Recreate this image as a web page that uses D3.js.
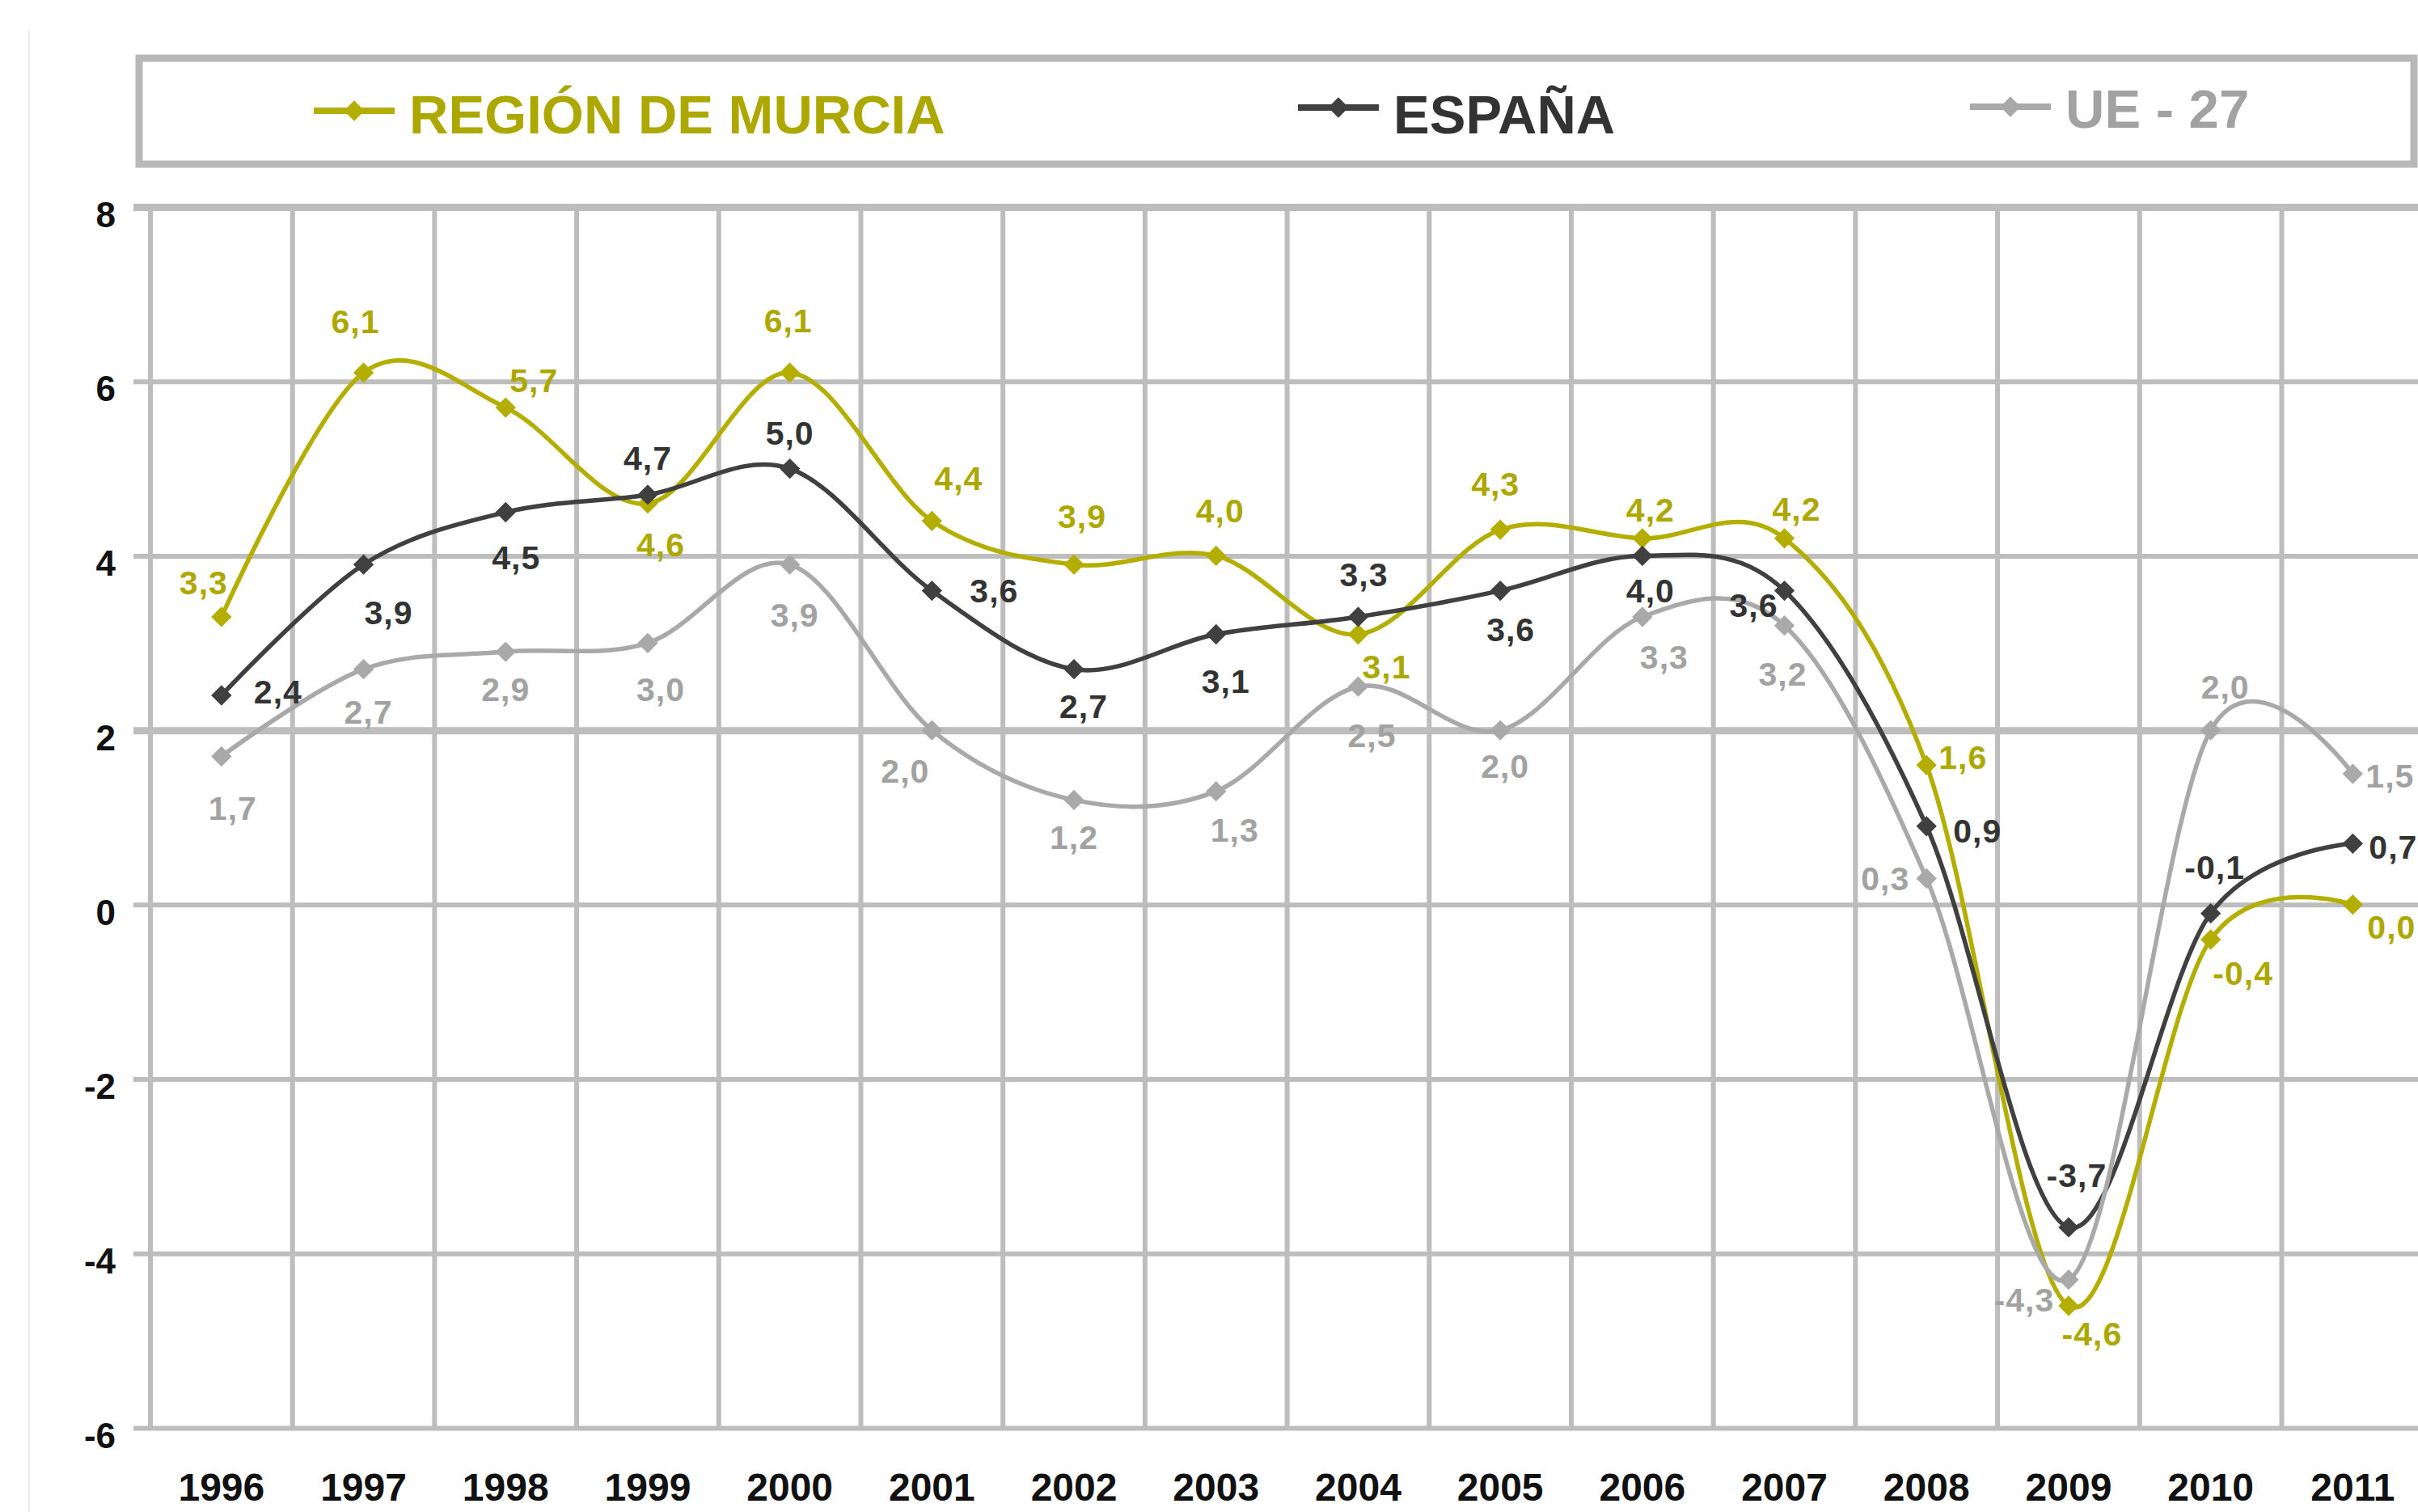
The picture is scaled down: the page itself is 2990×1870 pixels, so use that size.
<!DOCTYPE html>
<html>
<head>
<meta charset="utf-8">
<script src="https://cdn.jsdelivr.net/npm/d3@7"></script>
<style>
  html, body { margin: 0; padding: 0; background: #fff; }
  svg { display: block; font-family: 'Liberation Sans', Arial, sans-serif; font-weight: bold; }
</style>
</head>
<body>
<div id="app"></div>
<script>
const years = ['1996', '1997', '1998', '1999', '2000', '2001', '2002', '2003',
  '2004', '2005', '2006', '2007', '2008', '2009', '2010', '2011'];
const murcia = [3.3, 6.1, 5.7, 4.6, 6.1, 4.4, 3.9, 4.0, 3.1, 4.3, 4.2, 4.2, 1.6, -4.6, -0.4, 0.0];
const espana = [2.4, 3.9, 4.5, 4.7, 5.0, 3.6, 2.7, 3.1, 3.3, 3.6, 4.0, 3.6, 0.9, -3.7, -0.1, 0.7];
const ue27 = [1.7, 2.7, 2.9, 3.0, 3.9, 2.0, 1.2, 1.3, 2.5, 2.0, 3.3, 3.2, 0.3, -4.3, 2.0, 1.5];
const yTicks = [-6, -4, -2, 0, 2, 4, 6, 8];
const seriesNames = ['REGIÓN DE MURCIA', 'ESPAÑA', 'UE - 27'];

// where each value label sits, relative to its marker
const murciaLabelOffset = [[-22, -43], [-10, -64], [35, -34], [16, 51], [-2, -65], [33, -53], [10, -60], [5, -56],
  [35, 40], [-6, -57], [10, -36], [15, -37], [45, -10], [29, 34], [40, 41], [48, 27]];
const espanaLabelOffset = [[70, -5], [31, 59], [13, 56], [0, -46], [0, -44], [77, 0], [12, 46], [12, 58],
  [7, -53], [13, 48], [10, 43], [-38, 18], [63, 5], [10, -65], [5, -57], [50, 4]];
const ueLabelOffset = [[14, 64], [6, 53], [0, 46], [16, 57], [6, 62], [-33, 50], [0, 46], [23, 48],
  [17, 60], [6, 44], [27, 49], [-2, 60], [-51, 0], [-55, 25], [18, -54], [46, 2]];

const width = 2990;
const height = 1870;
const plotLeft = 186;
const band = 175.7;
const plotTop = 256;
const plotBottom = 1766;
const gridColor = '#bdbdbd';

const series = [
  { name: seriesNames[0], values: murcia, offsets: murciaLabelOffset, line: '#b4ae00', text: '#aca800', legendX: 388, legendTextY: 165, legendY: 137 },
  { name: seriesNames[1], values: espana, offsets: espanaLabelOffset, line: '#404040', text: '#333333', legendX: 1605, legendTextY: 165, legendY: 133 },
  { name: seriesNames[2], values: ue27, offsets: ueLabelOffset, line: '#a9a9a9', text: '#a2a2a2', legendX: 2436, legendTextY: 158, legendY: 132 }
];

const svg = d3.select('#app').append('svg')
  .attr('width', width)
  .attr('height', height)
  .attr('viewBox', `0 0 ${width} ${height}`);

const x = d3.scaleBand()
  .domain(years)
  .range([plotLeft, plotLeft + band * years.length]);

const y = d3.scaleLinear()
  .domain([-6, 8])
  .range([plotBottom, plotTop]);

// faint scan edge on the left
svg.append('line')
  .attr('x1', 36).attr('x2', 36)
  .attr('y1', 38).attr('y2', height)
  .attr('stroke', '#ececec')
  .attr('stroke-width', 2);

// legend box
svg.append('rect')
  .attr('x', 172).attr('y', 72)
  .attr('width', 2813).attr('height', 131)
  .attr('fill', '#fff')
  .attr('stroke', '#b8b8b8')
  .attr('stroke-width', 9);

// horizontal grid + y labels
const yAxis = svg.append('g')
  .attr('transform', `translate(${plotLeft - 21},0)`)
  .call(d3.axisLeft(y)
    .tickValues(yTicks)
    .tickFormat(d => String(d))
    .tickSize(-(band * years.length + 21))
    .tickPadding(22));

yAxis.select('.domain').remove();
yAxis.selectAll('.tick line')
  .attr('stroke', gridColor)
  .attr('stroke-width', d => (d === 8 || d === 2) ? 9 : 6);
yAxis.selectAll('.tick text')
  .attr('fill', '#111')
  .attr('font-size', 44)
  .attr('font-weight', 'bold')
  .attr('font-family', "'Liberation Sans', Arial, sans-serif")
  .attr('dy', '0.55em');

// vertical grid at category boundaries
svg.append('g')
  .selectAll('line')
  .data(d3.range(years.length + 1))
  .enter().append('line')
  .attr('x1', i => plotLeft + i * x.bandwidth())
  .attr('x2', i => plotLeft + i * x.bandwidth())
  .attr('y1', plotTop)
  .attr('y2', plotBottom)
  .attr('stroke', gridColor)
  .attr('stroke-width', 6);

// x labels
const xAxis = svg.append('g')
  .attr('transform', `translate(0,${plotBottom})`)
  .call(d3.axisBottom(x).tickSize(0).tickPadding(56));

xAxis.select('.domain').remove();
xAxis.selectAll('.tick text')
  .attr('fill', '#111')
  .attr('font-size', 48)
  .attr('font-weight', 'bold')
  .attr('font-family', "'Liberation Sans', Arial, sans-serif");

const cx = i => x(years[i]) + x.bandwidth() / 2;
const diamond = d3.symbol().type(d3.symbolSquare).size(320);

const line = d3.line()
  .x((d, i) => cx(i))
  .y(d => y(d))
  .curve(d3.curveCardinal.tension(0));

const marks = svg.append('g');
series.forEach(s => {
  const g = marks.append('g');

  g.append('path')
    .datum(s.values)
    .attr('d', line)
    .attr('fill', 'none')
    .attr('stroke', s.line)
    .attr('stroke-width', 5.5);

  g.selectAll('path.marker')
    .data(s.values)
    .enter().append('path')
    .attr('class', 'marker')
    .attr('d', diamond)
    .attr('transform', (d, i) => `translate(${cx(i)},${y(d)}) rotate(45)`)
    .attr('fill', s.line);
});

const fmt = v => d3.format('.1f')(v).replace('.', ',').replace('−', '-');

series.forEach(s => {
  svg.append('g')
    .selectAll('text')
    .data(s.values)
    .enter().append('text')
    .attr('x', (d, i) => cx(i) + s.offsets[i][0])
    .attr('y', (d, i) => y(d) + s.offsets[i][1])
    .attr('dy', '0.36em')
    .attr('text-anchor', 'middle')
    .attr('font-size', 41)
    .attr('letter-spacing', 1)
    .attr('fill', s.text)
    .text(fmt);
});

// legend entries
const legend = svg.append('g');
series.forEach(s => {
  const g = legend.append('g');
  g.append('line')
    .attr('x1', s.legendX).attr('x2', s.legendX + 100)
    .attr('y1', s.legendY).attr('y2', s.legendY)
    .attr('stroke', s.line)
    .attr('stroke-width', 8);
  g.append('path')
    .attr('d', diamond)
    .attr('transform', `translate(${s.legendX + 50},${s.legendY}) rotate(45)`)
    .attr('fill', s.line);
  g.append('text')
    .attr('x', s.legendX + 118)
    .attr('y', s.legendTextY)
    .attr('font-size', 67)
    .attr('fill', s.text)
    .text(s.name);
});
</script>
</body>
</html>
